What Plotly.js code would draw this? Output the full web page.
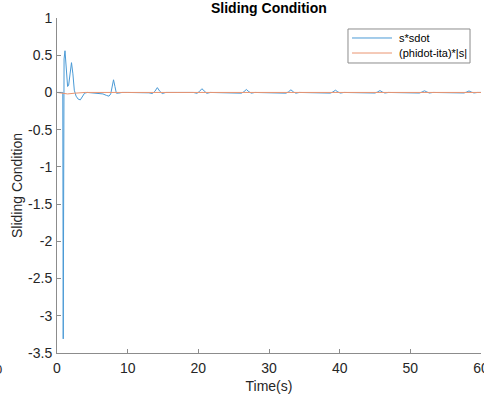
<!DOCTYPE html>
<html>
<head>
<meta charset="utf-8">
<script src="https://cdn.plot.ly/plotly-3.0.1.min.js"></script>
<style>html,body{margin:0;padding:0;background:#fff;}#chart{width:484px;height:398px;}</style>
</head>
<body>
<div id="chart"></div>
<script>
// s*sdot series
const tBlue = [0, 0.5, 0.82, 0.88, 0.93, 1.0, 1.13, 1.3, 1.5, 1.65, 1.85, 2.05, 2.25, 2.45, 2.7, 3.0, 3.3, 3.6, 3.9, 4.3, 5.0, 5.8, 6.5, 7.0, 7.35, 7.6, 7.8, 8.0, 8.2, 8.4, 8.7, 9.2, 10.0, 11.0, 12.0,
  13.0, 13.5, 13.85, 14.2, 14.55, 14.9, 15.4, 17.0,
  19.3, 19.8, 20.15, 20.5, 20.85, 21.2, 21.7, 23.5,
  25.6, 26.1, 26.45, 26.8, 27.15, 27.5, 28.0, 30.0,
  31.9, 32.4, 32.75, 33.1, 33.45, 33.8, 34.3, 36.0,
  38.2, 38.7, 39.05, 39.4, 39.75, 40.1, 40.6, 42.5,
  44.5, 45.0, 45.35, 45.7, 46.05, 46.4, 46.9, 49.0,
  50.8, 51.3, 51.65, 52.0, 52.35, 52.7, 53.2, 55.0,
  57.1, 57.6, 57.95, 58.3, 58.65, 59.0, 59.5, 60.0];
const sSdot = [0, 0, 0, -3.31, 0.2, 0.45, 0.56, 0.3, 0.08, 0.1, 0.3, 0.4, 0.25, 0.03, -0.05, -0.09, -0.1, -0.06, -0.01, 0, -0.005, -0.01, -0.02, -0.04, -0.05, -0.02, 0.1, 0.17, 0.08, -0.01, -0.01, 0, 0, 0, -0.005,
  -0.005, -0.015, 0.015, 0.065, 0.015, -0.015, 0, 0,
  0, -0.012, 0.012, 0.05, 0.012, -0.012, 0, 0,
  0, -0.01, 0.01, 0.04, 0.01, -0.01, 0, 0,
  0, -0.01, 0.008, 0.035, 0.008, -0.01, 0, 0,
  0, -0.009, 0.007, 0.03, 0.007, -0.009, 0, 0,
  0, -0.008, 0.006, 0.025, 0.006, -0.008, 0, 0,
  0, -0.008, 0.006, 0.022, 0.006, -0.008, 0, 0,
  0, -0.007, 0.005, 0.02, 0.005, -0.007, 0, 0];
// (phidot-ita)*|s| series
const tOrange = [0, 0.9, 1.5, 2.5, 4.0, 60];
const phiS = [0, -0.01, -0.02, -0.01, 0, 0];

const seriesNames = ['s*sdot', '(phidot-ita)*|s|'];
const xTicks = [0, 10, 20, 30, 40, 50, 60];
const yTicks = [-3.5, -3, -2.5, -2, -1.5, -1, -0.5, 0, 0.5, 1];

const font = 'Liberation Sans, Arial, Helvetica, sans-serif';
const blue = '#4a9ad6';
const orange = '#ea9470';
const traces = [
  {x: tBlue, y: sSdot, type: 'scatter', mode: 'lines', name: seriesNames[0], line: {color: blue, width: 1}},
  {x: tOrange, y: phiS, type: 'scatter', mode: 'lines', name: seriesNames[1], line: {color: orange, width: 1}}
];
const axisCommon = {
  showline: true, linecolor: '#8c8c8c', linewidth: 1, mirror: false,
  ticks: 'inside', ticklen: 4, tickcolor: '#8c8c8c', tickwidth: 1,
  showgrid: false, zeroline: false, ticklabeloverflow: 'allow',
  tickfont: {family: font, size: 14, color: '#262626'}
};
// custom legend placed in paper coordinates
const lgX0 = 0.6863, lgX1 = 0.9741, lgY0 = 0.8657, lgY1 = 0.9672;
const lgRows = [0.9403, 0.8955];
const lgLine0 = 0.6958, lgLine1 = 0.7901, lgText = 0.8019;
const colors = [blue, orange];
const shapes = [{type: 'rect', xref: 'paper', yref: 'paper', x0: lgX0, x1: lgX1, y0: lgY0, y1: lgY1,
  line: {color: '#8c8c8c', width: 1}, fillcolor: '#fff', layer: 'above'}];
const annotations = [];
seriesNames.forEach((n, i) => {
  shapes.push({type: 'line', xref: 'paper', yref: 'paper', x0: lgLine0, x1: lgLine1, y0: lgRows[i], y1: lgRows[i],
    line: {color: colors[i], width: 1}, layer: 'above'});
  annotations.push({text: n, xref: 'paper', yref: 'paper', x: lgText, y: lgRows[i], xanchor: 'left', yanchor: 'middle',
    showarrow: false, font: {family: font, size: 11, color: '#000'}});
});
annotations.push({text: '0', xref: 'paper', yref: 'paper', x: -0.137, y: -0.05, showarrow: false, xanchor: 'center', yanchor: 'middle',
  font: {family: font, size: 13, color: '#262626'}});

const layout = {
  width: 484, height: 398,
  margin: {l: 57, r: 3, t: 18, b: 45},
  paper_bgcolor: '#fff', plot_bgcolor: '#fff',
  title: {text: '<b>Sliding Condition</b>', font: {family: font, size: 14, color: '#000'}, x: 0.5556, xanchor: 'center', y: 0.993, yanchor: 'top'},
  xaxis: Object.assign({}, axisCommon, {range: [0, 60], tickvals: xTicks, ticktext: xTicks.map(String), ticklabelstandoff: 2,
    title: {text: 'Time(s)', font: {family: font, size: 14, color: '#262626'}, standoff: 6}}),
  yaxis: Object.assign({}, axisCommon, {range: [-3.5, 1], tickvals: yTicks, ticktext: yTicks.map(String), ticklabelstandoff: 1,
    title: {text: 'Sliding Condition', font: {family: font, size: 14, color: '#262626'}, standoff: 2}}),
  showlegend: false,
  shapes: shapes,
  annotations: annotations
};
Plotly.newPlot('chart', traces, layout, {staticPlot: true, displayModeBar: false});
</script>
</body>
</html>
